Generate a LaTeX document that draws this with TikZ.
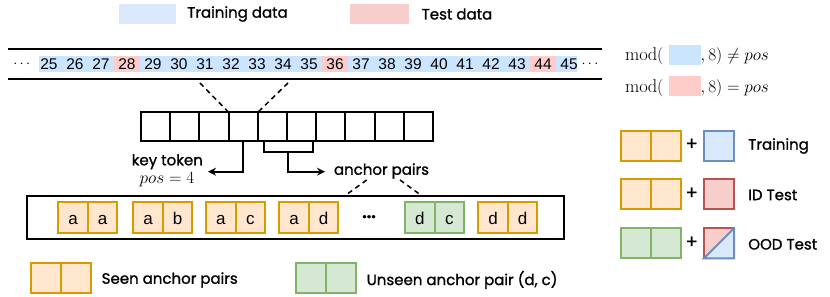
\documentclass[tikz,border=0pt]{standalone}
\usepackage{fontspec}
\newfontfamily\labfont[FakeBold=1.2]{Poppins}
\newfontfamily\arialfont{Liberation Sans}
\usetikzlibrary{arrows.meta}
\definecolor{trainfill}{HTML}{DAE8FC}
\definecolor{testfill}{HTML}{F8CECC}
\definecolor{bandblue}{HTML}{CCE5FF}
\definecolor{bandred}{HTML}{FFCCCC}
\definecolor{orfill}{HTML}{FFE6CC}
\definecolor{ordraw}{HTML}{D79B00}
\definecolor{grfill}{HTML}{D5E8D4}
\definecolor{grdraw}{HTML}{82B366}
\definecolor{bldraw}{HTML}{6C8EBF}
\definecolor{rddraw}{HTML}{B85450}
\newcommand\mkpair[6]{%
  \node[#6, anchor=north west] (#1l) at (#2,#3) {#4};
  \node[#6, anchor=north west] (#1r) at (#1l.north east) {#5};}
\tikzset{
  lab/.style={font=\labfont\fontsize{15}{17}\selectfont, inner sep=0pt, outer sep=0pt},
  mth/.style={font=\fontsize{18.5}{20}\selectfont, inner sep=0pt, outer sep=0pt},
  num/.style={font=\arialfont\fontsize{15.5}{16}\selectfont, inner sep=0pt},
  cellbase/.style={line width=2pt, inner sep=0pt, outer sep=0pt,
    minimum width=29.5pt, minimum height=31pt,
    text height=12.4pt, text depth=0pt,
    font=\arialfont\fontsize{17}{17}\selectfont},
  orcell/.style={cellbase, draw=ordraw, fill=orfill},
  grcell/.style={cellbase, draw=grdraw, fill=grfill},
  legsz/.style={minimum width=30pt, minimum height=30pt},
  acell/.style={draw, line width=2pt, minimum width=29.2pt, minimum height=28.4pt, inner sep=0pt, outer sep=0pt},
  arr/.style={line width=1.8pt, -{Stealth[length=8pt,width=8pt]}},
  dsh/.style={line width=1.5pt, dash pattern=on 5pt off 4pt},
  sq/.style={line width=2pt, minimum width=30pt, minimum height=30pt, inner sep=0pt, outer sep=0pt},
}
\begin{document}
\begin{tikzpicture}[x=1pt,y=-1pt]
\useasboundingbox (0,0) rectangle (830,297);

% top legend
\node[fill=trainfill, minimum width=57.4pt, minimum height=19.3pt, inner sep=0pt, anchor=north west] (lgtrain) at (118.3,4) {};
\node[lab, anchor=west] (lgtraint) at (187.3,14) {Training data};
\node[fill=testfill, minimum width=59pt, minimum height=19.3pt, inner sep=0pt, anchor=north west] (lgtest) at (350,4) {};
\node[lab, anchor=west] (lgtestt) at (421.7,14) {Test data};

% number strip
\coordinate (stl) at (8.3,49.3);
\coordinate (str) at (602,49.3);
\coordinate (sbl) at (8.3,79);
\coordinate (sbr) at (602,79);
\draw[line width=2pt] (stl) -- (str);
\draw[line width=2pt] (sbl) -- (sbr);
\fill[bandblue] (39,55.7) rectangle (577,72.3);
\foreach \r in {28,36,44} {
  \fill[bandred] ({114+(\r-28)*26},55.7) rectangle ({140+(\r-28)*26},72.3);
}
\foreach \n in {25,...,45} {
  \node[num] (n\n) at ({127+(\n-28)*26},64) {\n};
}
\node[inner sep=0pt, font=\fontsize{15}{15}\selectfont] (dotsl) at (21.7,64) {$\cdots$};
\node[inner sep=0pt, font=\fontsize{15}{15}\selectfont] (dotsr) at (590,64) {$\cdots$};

% formulas
\node[mth, anchor=base west] (f1a) at (625,60.5) {$\mathrm{mod}($};
\node[fill=bandblue, minimum width=32.4pt, minimum height=20pt, inner sep=0pt, anchor=north west] (f1b) at (668.3,44.3) {};
\node[mth, anchor=base west] (f1c) at (700.7,60.5) {$,8)\neq pos$};
\node[mth, anchor=base west] (f2a) at (625,92) {$\mathrm{mod}($};
\node[fill=bandred, minimum width=32.4pt, minimum height=19.7pt, inner sep=0pt, anchor=north west] (f2b) at (668.3,76) {};
\node[mth, anchor=base west] (f2c) at (700.7,92) {$,8)=pos$};

% array
\foreach \i in {1,...,10} {
  \node[acell, anchor=north west] (c\i) at ({141+(\i-1)*29.2},112.3) {};
}
\coordinate (dl) at (200,83);
\coordinate (dr) at (288,83);
\draw[dsh] (dl) -- (c4.north west);
\draw[dsh] (dr) -- (c4.north east);

% key token
\coordinate (ktend) at (208,171.7);
\draw[arr] (c4.south) |- (ktend);
\node[lab, anchor=west] (kt) at (131.7,161.7) {key token};
\node[mth] (pos) at (167,180) {$pos=4$};

% anchor bracket
\coordinate (bl) at (264,140.7);
\coordinate (br) at (312.7,140.7);
\coordinate (bm) at (288.3,151.7);
\coordinate (aptip) at (325,171.7);
\draw[line width=1.8pt] (bl) |- (bm) -| (br);
\draw[arr] (bm) |- (aptip);
\node[lab, anchor=west] (ap) at (334,171) {anchor pairs};

% sequence box
\node[draw, line width=2pt, minimum width=537pt, minimum height=43.3pt, inner sep=0pt, outer sep=0pt, anchor=north west] (seq) at (27,195.7) {};
\coordinate (ad1) at (366.7,180);
\coordinate (ad2) at (400,180);
\draw[dsh] (ad1) -- (seq.north -| 345,0);
\draw[dsh] (ad2) -- (seq.north -| 421.7,0);
\mkpair{aa}{58.3}{202.3}{a}{a}{orcell}
\mkpair{ab}{133.3}{202.3}{a}{b}{orcell}
\mkpair{ac}{206}{202.3}{a}{c}{orcell}
\mkpair{ad}{279.3}{202.3}{a}{d}{orcell}
\node[lab, font=\labfont\bfseries\fontsize{16}{16}\selectfont] (ell) at (369,216.7) {...};
\mkpair{dc}{405}{202.3}{d}{c}{grcell}
\mkpair{dd}{478.3}{202.3}{d}{d}{orcell}

% bottom legend
\mkpair{ls}{31}{263.3}{}{}{orcell, legsz}
\node[lab, anchor=west] (lst) at (101.7,280) {Seen anchor pairs};
\mkpair{lu}{296}{263.3}{}{}{grcell, legsz}
\node[lab, anchor=west] (lut) at (366.7,280) {Unseen anchor pair (d, c)};

% right legend
\mkpair{r1}{621}{130.7}{}{}{orcell, legsz}
\node[lab, font=\labfont\fontsize{18}{18}\selectfont] (p1) at (691.7,144.3) {+};
\node[sq, draw=bldraw, fill=trainfill, anchor=north west] (s1) at (704,130.7) {};
\node[lab, anchor=west] (t1) at (748.3,146) {Training};

\mkpair{r2}{621}{179.3}{}{}{orcell, legsz}
\node[lab, font=\labfont\fontsize{18}{18}\selectfont] (p2) at (691.7,193.3) {+};
\node[sq, draw=rddraw, fill=testfill, anchor=north west] (s2) at (704,179.3) {};
\node[lab, anchor=west] (t2) at (748.3,195) {ID Test};

\mkpair{r3}{621}{228.3}{}{}{grcell, legsz}
\node[lab, font=\labfont\fontsize{18}{18}\selectfont] (p3) at (691.7,242.3) {+};
\node[sq, anchor=north west] (s3) at (704,228.3) {};
\fill[testfill] (s3.north west) -- (s3.north east) -- (s3.south west) -- cycle;
\fill[trainfill] (s3.north east) -- (s3.south east) -- (s3.south west) -- cycle;
\draw[rddraw, line width=2pt, line cap=rect] (s3.south west) -- (s3.north west) -- (s3.north east);
\draw[bldraw, line width=2pt, line cap=rect] (s3.north east) -- (s3.south east) -- (s3.south west) -- (s3.north east);
\node[lab, anchor=west] (t3) at (748.3,244.3) {OOD Test};
\end{tikzpicture}
\end{document}
